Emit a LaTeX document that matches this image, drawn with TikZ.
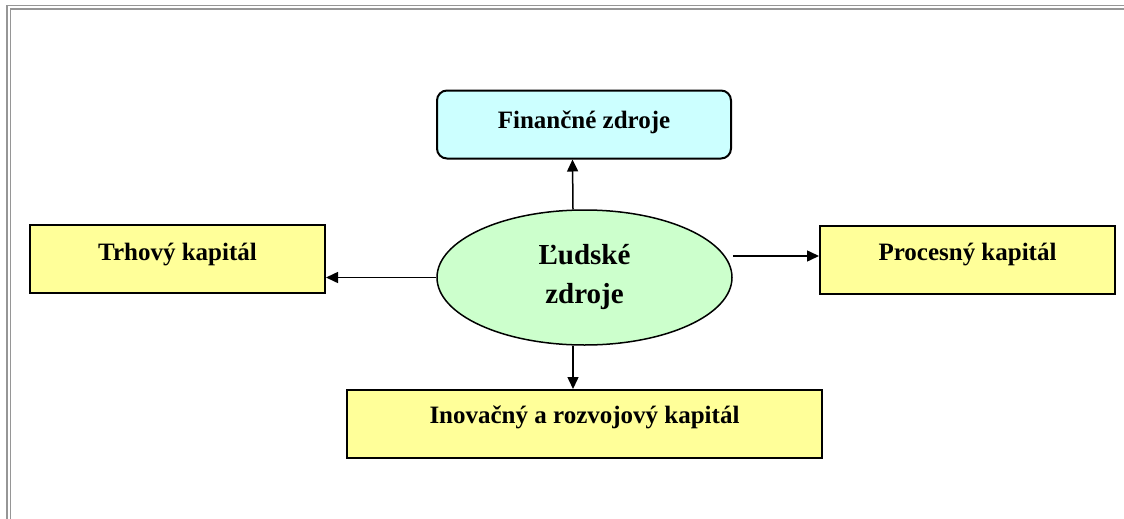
\documentclass[tikz,border=0pt]{standalone}
\usepackage{fontspec}
\setmainfont{Liberation Serif}
\usetikzlibrary{shapes.geometric,arrows.meta,calc}
\definecolor{boxyellow}{RGB}{255,255,153}
\definecolor{boxcyan}{RGB}{204,255,255}
\definecolor{ellgreen}{RGB}{204,255,204}
\definecolor{framegray}{RGB}{150,150,150}
\tikzset{
  capbox/.style={draw=black, line width=2pt, fill=boxyellow, inner sep=0pt,
    minimum height=68pt, font=\bfseries\fontsize{25}{30}\selectfont},
  finbox/.style={capbox, fill=boxcyan, rounded corners=10pt},
  centerell/.style={ellipse, draw=black, line width=1.5pt, fill=ellgreen, inner sep=0pt,
    minimum width=295pt, minimum height=135pt, align=center,
    font=\bfseries\fontsize{29}{39}\selectfont},
  arr/.style={line width=1.5pt, -{Triangle[length=12pt,width=11pt]}},
  frameline/.style={draw=framegray, line width=1.3pt}
}
\begin{document}
\begin{tikzpicture}[x=1pt,y=-1pt]
\useasboundingbox (0,0) rectangle (1124,519);
% frame
\draw[frameline] (7,519) -- (7,5.5) -- (1124,5.5);
\draw[frameline] (10.5,519) -- (10.5,9) -- (1124,9);
% nodes
\node[finbox, minimum width=294pt, text height=37pt, text depth=30pt] (fin) at (584,124.5) {Finančné zdroje};
\node[capbox, minimum width=295pt, text height=35pt, text depth=33pt] (trh) at (177.5,259) {Trhový kapitál};
\node[capbox, minimum width=295pt, text height=34pt, text depth=34pt] (pro) at (967.5,260) {Procesný kapitál};
\node[capbox, minimum width=475pt, text height=33pt, text depth=35pt] (ino) at (584.5,424) {Inovačný a rozvojový kapitál};
\node[centerell] (ell) at (584.5,277.5) {Ľudské\\zdroje};
% connectors
\draw[arr] ([xshift=-11.5pt]ell.north) -- ([xshift=-11.5pt]fin.south);
\draw[arr] ([xshift=-11.5pt]ell.south) -- ([xshift=-11.5pt]ino.north);
\draw[arr] (ell.west) -- (ell.west -| trh.east);
\coordinate (r0) at ($(ell.east)+(0,-21.5)$);
\draw[arr] (r0) -- (r0 -| pro.west);
\end{tikzpicture}
\end{document}
